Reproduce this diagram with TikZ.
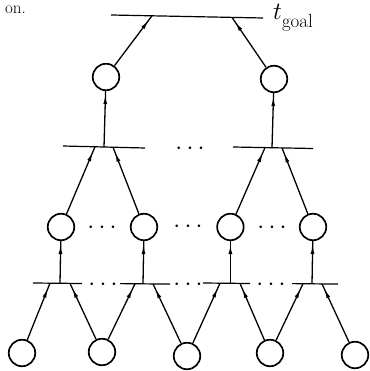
\documentclass[tikz,border=0pt]{standalone}
\usetikzlibrary{arrows.meta,decorations.markings}
\begin{document}
\begin{tikzpicture}[x=1pt,y=-1pt,
  proc/.style={circle,draw,line width=1.7pt,minimum size=26.5pt,inner sep=0pt},
  barline/.style={line width=1.2pt},
  conn/.style={line width=1.3pt},
  tipd/.style={postaction={decorate},decoration={markings,mark=at position -6pt with {\arrow{Latex[length=9pt,width=4pt]}}}},
  tipv/.style={postaction={decorate},decoration={markings,mark=at position -4pt with {\arrow{Latex[length=9pt,width=4pt]}}}},
  dotsnode/.style={inner sep=0pt,anchor=base,font=\fontsize{28}{30}\selectfont}]
\useasboundingbox (0,0) rectangle (369,371);
% fragment of preceding text
\node[anchor=base east,inner sep=0pt,font=\fontsize{17}{20}\selectfont] (frag) at (26,13.5) {on.};
% top bar
\coordinate (tl) at (111,15); \coordinate (tr) at (263,18);
\draw[barline] (tl) -- (tr);
\coordinate (ta) at (152,15.8); \coordinate (tb) at (232,17.4);
\node[anchor=base west,inner sep=0pt] (goal) at (273,20) {\fontsize{23}{26}\selectfont$t$\raisebox{-8pt}{\fontsize{19}{22}\selectfont goal}};
% top circles
\node[proc] (a1) at (106,77) {};
\node[proc] (a2) at (274,79) {};
\draw[conn,tipd] (a1) -- (ta);
\draw[conn,tipd] (a2) -- (tb);
% second-level bars
\coordinate (b1l) at (63,146); \coordinate (b1r) at (145,148);
\coordinate (b2l) at (233,147); \coordinate (b2r) at (313,148.5);
\draw[barline] (b1l) -- (b1r);
\draw[barline] (b2l) -- (b2r);
\coordinate (b1v) at (104,147); \coordinate (b1a) at (95,146.8); \coordinate (b1b) at (113,147.2);
\coordinate (b2v) at (272,147.7); \coordinate (b2a) at (265,147.6); \coordinate (b2b) at (282,147.9);
\draw[conn,tipv] (b1v) -- (a1);
\draw[conn,tipv] (b2v) -- (a2);
\node[dotsnode] (dt) at (190,155) {$\cdots$};
% middle circles
\node[proc] (m1) at (61,227) {};
\node[proc] (m2) at (144,227) {};
\node[proc] (m3) at (230.4,227) {};
\node[proc] (m4) at (313,227) {};
\draw[conn,tipd] (m1) -- (b1a);
\draw[conn,tipd] (m2) -- (b1b);
\draw[conn,tipd] (m3) -- (b2a);
\draw[conn,tipd] (m4) -- (b2b);
\node[dotsnode] (dm1) at (102,233) {$\cdots$};
\node[dotsnode] (dm2) at (188,232) {$\cdots$};
\node[dotsnode] (dm3) at (272,233) {$\cdots$};
% bottom bars
\coordinate (c1l) at (33,283); \coordinate (c1r) at (82,283.5);
\coordinate (c2l) at (120,283.6); \coordinate (c2r) at (170,284.1);
\coordinate (c3l) at (203,283); \coordinate (c3r) at (250,283.5);
\coordinate (c4l) at (292,283.6); \coordinate (c4r) at (338,284.1);
\draw[barline] (c1l) -- (c1r);
\draw[barline] (c2l) -- (c2r);
\draw[barline] (c3l) -- (c3r);
\draw[barline] (c4l) -- (c4r);
\coordinate (c1v) at (60,283.3); \coordinate (c1a) at (50,283.2); \coordinate (c1b) at (70,283.4);
\coordinate (c2v) at (143,283.8); \coordinate (c2a) at (135,283.8); \coordinate (c2b) at (153,283.9);
\coordinate (c3v) at (230.4,283.3); \coordinate (c3a) at (220,283.2); \coordinate (c3b) at (240,283.4);
\coordinate (c4v) at (312,283.8); \coordinate (c4a) at (303,283.7); \coordinate (c4b) at (322,283.9);
\draw[conn,tipv] (c1v) -- (m1);
\draw[conn,tipv] (c2v) -- (m2);
\draw[conn,tipv] (c3v) -- (m3);
\draw[conn,tipv] (c4v) -- (m4);
\node[dotsnode] (db1) at (103,290) {$\cdots$};
\node[dotsnode] (db2) at (188,290) {$\cdots$};
\node[dotsnode] (db3) at (271,290) {$\cdots$};
% bottom circles
\node[proc] (d1) at (22,353) {};
\node[proc] (d2) at (102,352) {};
\node[proc] (d3) at (187,356) {};
\node[proc] (d4) at (270,353) {};
\node[proc] (d5) at (355,355) {};
\draw[conn,tipd] (d1) -- (c1a);
\draw[conn,tipd] (d2) -- (c1b);
\draw[conn,tipd] (d2) -- (c2a);
\draw[conn,tipd] (d3) -- (c2b);
\draw[conn,tipd] (d3) -- (c3a);
\draw[conn,tipd] (d4) -- (c3b);
\draw[conn,tipd] (d4) -- (c4a);
\draw[conn,tipd] (d5) -- (c4b);
\end{tikzpicture}
\end{document}
